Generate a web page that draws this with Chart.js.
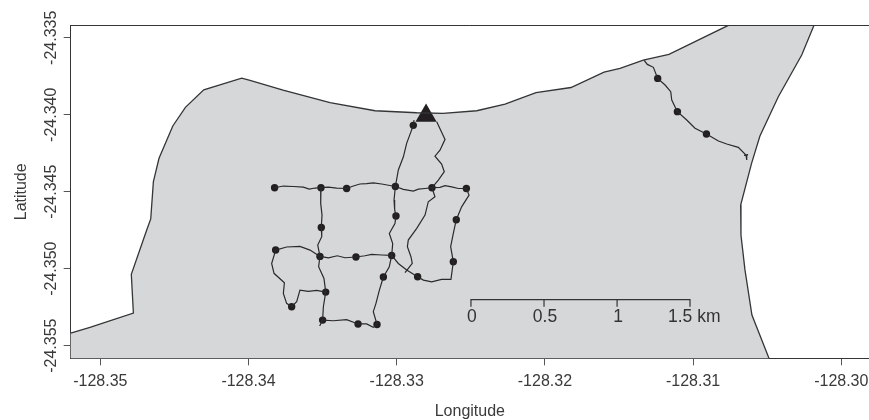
<!DOCTYPE html>
<html><head><meta charset="utf-8">
<script src="https://cdn.jsdelivr.net/npm/chart.js@4"></script>
<style>html,body{margin:0;padding:0;background:#fff}canvas{display:block}</style>
</head><body><canvas id="c" width="869" height="420"></canvas>
<script>
const xTickValues=[-128.35,-128.34,-128.33,-128.32,-128.31,-128.30];
const yTickValues=[-24.335,-24.340,-24.345,-24.350,-24.355];
const xMin=-128.352,xMax=-128.29813,yMin=-24.35582,yMax=-24.33419;

const coastWestLon=[-128.352,-128.3507,-128.34777,-128.34791,-128.34687,-128.3466,-128.34642,-128.34604,-128.34511,-128.34426,-128.34302,-128.34046,-128.3399,-128.33767,-128.3345,-128.33146,-128.32865,-128.32688,-128.3246,-128.32269,-128.3206,-128.31824,-128.31601,-128.31493,-128.31336,-128.31163,-128.30762];
const coastWestLat=[-24.35419,-24.35381,-24.35288,-24.35036,-24.34749,-24.34677,-24.34435,-24.34283,-24.34073,-24.33952,-24.33838,-24.33762,-24.33777,-24.3384,-24.33922,-24.33974,-24.33987,-24.33991,-24.33974,-24.33931,-24.33856,-24.33823,-24.33723,-24.33699,-24.33645,-24.33608,-24.33419];
const coastEastLon=[-128.30184,-128.30267,-128.30425,-128.30549,-128.30605,-128.30679,-128.30677,-128.3065,-128.30603,-128.30488];
const coastEastLat=[-24.33419,-24.33612,-24.33883,-24.34138,-24.34314,-24.34586,-24.34781,-24.35008,-24.35301,-24.35582];

const t1Lon=[-128.33824,-128.33765,-128.33698,-128.3363,-128.3359,-128.33551,-128.33511,-128.33461,-128.33405,-128.33338,-128.33293,-128.33248,-128.33203,-128.33158,-128.33102,-128.33009,-128.32955,-128.32888,-128.32854,-128.32809,-128.32762,-128.32708,-128.32674,-128.32629,-128.32584,-128.3253];
const t1Lat=[-24.34474,-24.34463,-24.34466,-24.3447,-24.34483,-24.34476,-24.34474,-24.3447,-24.34476,-24.34479,-24.34463,-24.3445,-24.34448,-24.34442,-24.3445,-24.34466,-24.34485,-24.34496,-24.34483,-24.34479,-24.34474,-24.34472,-24.34461,-24.34468,-24.34479,-24.34479];
const t2Lon=[-128.33511,-128.33513,-128.33504,-128.33509,-128.33506,-128.33533,-128.33518,-128.33527,-128.33491,-128.33479,-128.33495,-128.335,-128.3352];
const t2Lat=[-24.34474,-24.34576,-24.34652,-24.34732,-24.34792,-24.34846,-24.3492,-24.34987,-24.35063,-24.35152,-24.35247,-24.35334,-24.35372];
const t3Lon=[-128.33009,-128.33018,-128.33014,-128.33005,-128.33012,-128.3305,-128.33027,-128.33034,-128.3305,-128.3309,-128.33117,-128.3314,-128.33158,-128.33133];
const t3Lat=[-24.34466,-24.34554,-24.34615,-24.34658,-24.34706,-24.34771,-24.34836,-24.34914,-24.34987,-24.35054,-24.35139,-24.35225,-24.35279,-24.35362];
const t4Lon=[-128.32883,-128.32888,-128.32933,-128.32955,-128.32989,-128.33009];
const t4Lat=[-24.34035,-24.34069,-24.34186,-24.34273,-24.34359,-24.34466];
const t5Lon=[-128.3273,-128.32674,-128.32708,-128.32742,-128.32697,-128.32679,-128.32719,-128.32762];
const t5Lat=[-24.34046,-24.3416,-24.3423,-24.34269,-24.34321,-24.3437,-24.34424,-24.34474];
const t6Lon=[-128.32762,-128.32742,-128.32787,-128.32809,-128.32865,-128.32922,-128.32928,-128.32904,-128.32895,-128.32944];
const t6Lat=[-24.34474,-24.34533,-24.34565,-24.34652,-24.34738,-24.34814,-24.34857,-24.34922,-24.34966,-24.35026];
const t7Lon=[-128.3253,-128.32512,-128.32562,-128.32598,-128.32618,-128.32636,-128.32618,-128.32634,-128.32697,-128.32764,-128.3282,-128.32859,-128.32933,-128.32989,-128.33034];
const t7Lat=[-24.34479,-24.34522,-24.34598,-24.34682,-24.34771,-24.34857,-24.34955,-24.35069,-24.35069,-24.35085,-24.35074,-24.35052,-24.35009,-24.34966,-24.34914];
const t8Lon=[-128.33518,-128.33461,-128.33401,-128.33349,-128.33275,-128.33214,-128.33169,-128.33102,-128.33034];
const t8Lat=[-24.3492,-24.34929,-24.34916,-24.34929,-24.34924,-24.34916,-24.34907,-24.34911,-24.34914];
const t9Lon=[-128.33817,-128.33743,-128.33653,-128.33585,-128.33518];
const t9Lat=[-24.34879,-24.34859,-24.34855,-24.34879,-24.3492];
const t10Lon=[-128.33817,-128.33844,-128.33828,-128.33758,-128.33765,-128.33743,-128.33709,-128.33675,-128.33653,-128.33596,-128.3354,-128.33479];
const t10Lat=[-24.34879,-24.34966,-24.3503,-24.35091,-24.3516,-24.35225,-24.35247,-24.35214,-24.35139,-24.35147,-24.35141,-24.35152];
const t11Lon=[-128.335,-128.33428,-128.33338,-128.33261,-128.33203,-128.33158,-128.33133];
const t11Lat=[-24.35334,-24.35338,-24.35331,-24.35359,-24.35359,-24.35381,-24.35362];
const t12Lon=[-128.31331,-128.31309,-128.31268,-128.31239,-128.31189,-128.31151,-128.31144,-128.31106,-128.31043,-128.30987,-128.3091,-128.30829,-128.30773,-128.30695,-128.30643,-128.30656,-128.30629,-128.30643,-128.30638];
const t12Lat=[-24.33645,-24.33673,-24.33692,-24.33764,-24.33807,-24.3385,-24.33904,-24.3398,-24.34034,-24.34088,-24.34125,-24.34171,-24.3419,-24.34212,-24.34262,-24.34264,-24.34259,-24.34262,-24.34294];

const stationLon=[-128.32888,-128.33824,-128.33511,-128.33338,-128.33009,-128.32762,-128.3253,-128.33509,-128.33005,-128.32598,-128.33817,-128.33518,-128.33275,-128.33034,-128.32618,-128.3309,-128.32859,-128.33479,-128.33709,-128.335,-128.33261,-128.33133,-128.31239,-128.31106,-128.3091];
const stationLat=[-24.34069,-24.34474,-24.34474,-24.34479,-24.34466,-24.34474,-24.34479,-24.34732,-24.34658,-24.34682,-24.34879,-24.3492,-24.34924,-24.34914,-24.34955,-24.35054,-24.35052,-24.35152,-24.35247,-24.35334,-24.35359,-24.35362,-24.33764,-24.3398,-24.34125];
const markerLon=[-128.32802];
const markerLat=[-24.34006];

const scaleBarLon=[-128.32499,-128.32499,-128.32006,-128.32006,-128.32006,-128.31513,-128.31513,-128.31513,-128.31021,-128.31021];
const scaleBarLat=[-24.35247,-24.35201,-24.35201,-24.35247,-24.35201,-24.35201,-24.35247,-24.35201,-24.35201,-24.35247];
const scaleLabels=['0','0.5','1','1.5 km'];
const scaleLabelLon=[-128.32499,-128.32006,-128.31513,-128.31021];
const scaleLabelLat=-24.35312;

const zip=(a,b)=>a.map((v,i)=>({x:v,y:b[i]}));
const coastStyle={showLine:true,pointRadius:0,borderColor:'#333536',borderWidth:1.3,fill:false};
const trackStyle={showLine:true,pointRadius:0,borderColor:'#2a2a2a',borderWidth:1.2,fill:false};
const tracks=[[t1Lon,t1Lat],[t2Lon,t2Lat],[t3Lon,t3Lat],[t4Lon,t4Lat],[t5Lon,t5Lat],[t6Lon,t6Lat],[t7Lon,t7Lat],[t8Lon,t8Lat],[t9Lon,t9Lat],[t10Lon,t10Lat],[t11Lon,t11Lat],[t12Lon,t12Lat]];

const landPlugin={id:'land',beforeDatasetsDraw(ch){
  const a=ch.getDatasetMeta(0).data,b=ch.getDatasetMeta(1).data,c=ch.ctx,ar=ch.chartArea;
  c.save();c.beginPath();
  a.forEach((p,i)=>i?c.lineTo(p.x,p.y):c.moveTo(p.x,p.y));
  b.forEach(p=>c.lineTo(p.x,p.y));
  c.lineTo(ar.left,ar.bottom);c.closePath();
  c.fillStyle='#d6d7d9';c.fill();c.restore();
}};
const framePlugin={id:'frame',afterDraw(ch){
  const c=ch.ctx,ar=ch.chartArea,xs=ch.scales.x,ys=ch.scales.y;
  c.save();c.strokeStyle='#333536';c.lineWidth=1;c.beginPath();
  c.moveTo(ar.left,Math.round(ar.top)+.5);c.lineTo(ar.right,Math.round(ar.top)+.5);c.stroke();
  c.fillStyle='#333';c.font='17.5px "Liberation Sans"';c.textBaseline='middle';
  scaleLabels.forEach((t,i)=>{
    const last=i===scaleLabels.length-1;
    c.textAlign=last?'left':'center';
    c.fillText(t,xs.getPixelForValue(scaleLabelLon[i])+(last?-22:1),ys.getPixelForValue(scaleLabelLat));
  });
  c.restore();
}};
const tickFont={family:'"Liberation Sans"',size:16};
new Chart(document.getElementById('c'),{
  type:'scatter',
  plugins:[landPlugin,framePlugin],
  data:{datasets:[
    {...coastStyle,data:zip(coastWestLon,coastWestLat)},
    {...coastStyle,data:zip(coastEastLon,coastEastLat)},
    ...tracks.map(t=>({...trackStyle,data:zip(t[0],t[1])})),
    {...trackStyle,borderColor:'#333',data:zip(scaleBarLon,scaleBarLat)},
    {showLine:false,pointRadius:3.7,pointBackgroundColor:'#231f20',pointBorderWidth:0,data:zip(stationLon,stationLat)},
    {showLine:false,pointStyle:'triangle',pointRadius:12.2,pointBackgroundColor:'#231f20',pointBorderWidth:0,data:zip(markerLon,markerLat)}
  ]},
  options:{
    responsive:false,animation:false,events:[],
    layout:{autoPadding:false,padding:{top:25.3,left:0,right:0,bottom:0}},
    plugins:{legend:{display:false},tooltip:{enabled:false}},
    scales:{
      x:{type:'linear',min:xMin,max:xMax,
        afterFit:s=>{s.height=61.7;s.paddingLeft=0;s.paddingRight=0},
        afterBuildTicks:s=>{s.ticks=xTickValues.map(v=>({value:v}))},
        grid:{drawOnChartArea:false,color:'#555',tickLength:7},
        border:{color:'#333536'},
        ticks:{autoSkip:false,maxRotation:0,padding:7,color:'#3a3a3a',font:tickFont,callback:v=>v.toFixed(2)},
        title:{display:true,text:'Longitude',color:'#3a3a3a',font:tickFont,padding:{top:0,bottom:-1}}},
      y:{type:'linear',min:yMin,max:yMax,
        afterFit:s=>{s.width=70.7;s.paddingTop=0;s.paddingBottom=0},
        afterBuildTicks:s=>{s.ticks=yTickValues.map(v=>({value:v}))},
        grid:{drawOnChartArea:false,color:'#555',tickLength:7},
        border:{color:'#333536'},
        ticks:{autoSkip:false,minRotation:90,maxRotation:90,crossAlign:'center',padding:-15,color:'#3a3a3a',font:tickFont,callback:v=>v.toFixed(3)},
        title:{display:true,text:'Latitude',color:'#3a3a3a',font:tickFont,padding:{top:12.4,bottom:0}}}
    }
  }
});
</script></body></html>
